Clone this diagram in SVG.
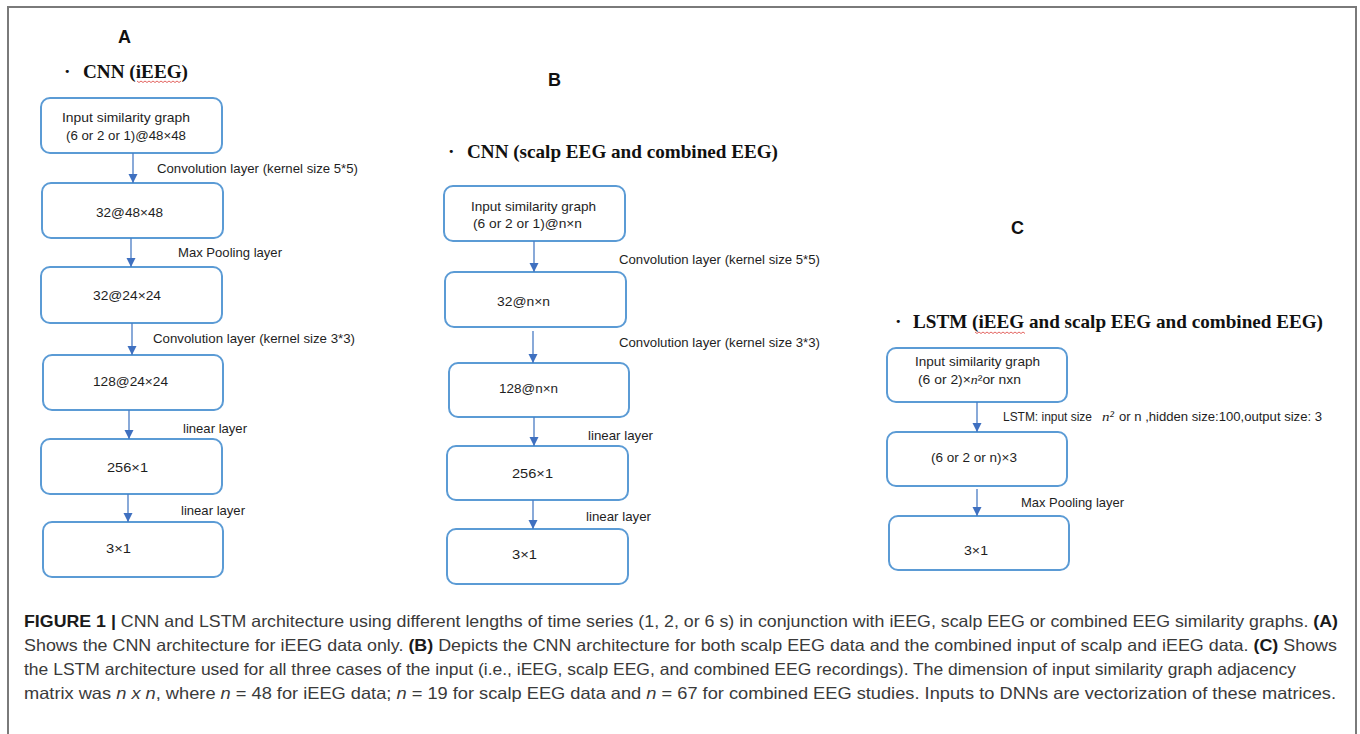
<svg xmlns="http://www.w3.org/2000/svg" width="1360" height="734" viewBox="0 0 1360 734">
<defs>
<style>
.bg{fill:#ffffff}
.frame{fill:none;stroke:#7a7a7a;stroke-width:2}
.box{fill:#ffffff;stroke:#5b9bd5;stroke-width:2}
.bt{font-family:"Liberation Sans",Arial,sans-serif;font-size:13.5px;fill:#1e1e1e}
.lbl{font-family:"Liberation Sans",Arial,sans-serif;font-size:13.5px;fill:#1e1e1e}
.pl{font-family:"Liberation Sans",Arial,sans-serif;font-size:18px;font-weight:bold;fill:#111}
.ttl{font-family:"Liberation Serif","Times New Roman",serif;font-size:19.5px;font-weight:bold;fill:#111}
.cap{font-family:"Liberation Sans",Arial,sans-serif;font-size:16.5px;fill:#3a3a3a}
.capb{font-weight:bold;fill:#1a1a1a}
.math{font-family:"Liberation Serif","Times New Roman",serif;font-style:italic}
.arr{stroke:#4a7cc4;stroke-width:1.3;fill:none}
.sq{fill:none;stroke:#e0534f;stroke-width:0.9}
</style>
<marker id="ah" markerUnits="userSpaceOnUse" markerWidth="10" markerHeight="10" refX="9" refY="5" orient="auto">
<path d="M0,0.5 L9,5 L0,9.5 z" fill="#3f70c0"/>
</marker>
</defs>
<rect class="bg" x="0" y="0" width="1360" height="734"/>
<path class="frame" d="M8,734 L8,7 L1356,7 L1356,734"/>

<!-- Panel headings -->
<g id="panel-A-head">
<text class="pl" x="118" y="43">A</text>
<text class="ttl" x="64" y="78">·</text>
<text class="ttl" x="83" y="78" textLength="105" lengthAdjust="spacingAndGlyphs">CNN (iEEG)</text>
<path class="sq" d="M137,81 l2,1.5 l2,-1.5 l2,1.5 l2,-1.5 l2,1.5 l2,-1.5 l2,1.5 l2,-1.5 l2,1.5 l2,-1.5 l2,1.5 l2,-1.5 l2,1.5 l2,-1.5 l2,1.5 l2,-1.5 l2,1.5 l2,-1.5 l2,1.5 l2,-1.5 l2,1.5 l2,-1.5"/>
</g>
<g id="panel-B-head">
<text class="pl" x="548" y="86">B</text>
<text class="ttl" x="448" y="158">·</text>
<text class="ttl" x="467" y="158" textLength="311" lengthAdjust="spacingAndGlyphs">CNN (scalp EEG and combined EEG)</text>
</g>
<g id="panel-C-head">
<text class="pl" x="1011" y="234">C</text>
<text class="ttl" x="895" y="328">·</text>
<text class="ttl" x="913" y="328" textLength="410" lengthAdjust="spacingAndGlyphs">LSTM (iEEG and scalp EEG and combined EEG)</text>
<path class="sq" d="M975,332 l2,1.5 l2,-1.5 l2,1.5 l2,-1.5 l2,1.5 l2,-1.5 l2,1.5 l2,-1.5 l2,1.5 l2,-1.5 l2,1.5 l2,-1.5 l2,1.5 l2,-1.5 l2,1.5 l2,-1.5 l2,1.5 l2,-1.5 l2,1.5 l2,-1.5 l2,1.5 l2,-1.5 l2,1.5 l2,-1.5 l2,1.5"/>
</g>

<!-- Panel A nodes -->
<g id="A1"><rect class="box" x="41" y="98" width="181" height="55" rx="9"/>
<text class="bt" x="62" y="122" textLength="128" lengthAdjust="spacingAndGlyphs">Input similarity  graph</text>
<text class="bt" x="66" y="140" textLength="120" lengthAdjust="spacingAndGlyphs">(6 or 2 or 1)@48×48</text></g>
<g id="A2"><rect class="box" x="42" y="183" width="181" height="55" rx="9"/>
<text class="bt" x="96" y="217" textLength="67" lengthAdjust="spacingAndGlyphs">32@48×48</text></g>
<g id="A3"><rect class="box" x="41" y="267" width="181" height="56" rx="9"/>
<text class="bt" x="93" y="300" textLength="68" lengthAdjust="spacingAndGlyphs">32@24×24</text></g>
<g id="A4"><rect class="box" x="43" y="355" width="180" height="55" rx="9"/>
<text class="bt" x="93" y="386" textLength="75" lengthAdjust="spacingAndGlyphs">128@24×24</text></g>
<g id="A5"><rect class="box" x="41" y="439" width="181" height="55" rx="9"/>
<text class="bt" x="107" y="472" textLength="41" lengthAdjust="spacingAndGlyphs">256×1</text></g>
<g id="A6"><rect class="box" x="43" y="522" width="180" height="55" rx="9"/>
<text class="bt" x="106" y="553" textLength="25" lengthAdjust="spacingAndGlyphs">3×1</text></g>

<!-- Panel B nodes -->
<g id="B1"><rect class="box" x="444" y="186" width="181" height="55" rx="9"/>
<text class="bt" x="471" y="211" textLength="125" lengthAdjust="spacingAndGlyphs">Input similarity graph</text>
<text class="bt" x="473" y="228" textLength="109" lengthAdjust="spacingAndGlyphs">(6 or 2 or 1)@n×n</text></g>
<g id="B2"><rect class="box" x="445" y="272" width="181" height="55" rx="9"/>
<text class="bt" x="497" y="306" textLength="53" lengthAdjust="spacingAndGlyphs">32@n×n</text></g>
<g id="B3"><rect class="box" x="449" y="363" width="180" height="54" rx="9"/>
<text class="bt" x="499" y="393" textLength="59" lengthAdjust="spacingAndGlyphs">128@n×n</text></g>
<g id="B4"><rect class="box" x="447" y="446" width="181" height="54" rx="9"/>
<text class="bt" x="512" y="478" textLength="41" lengthAdjust="spacingAndGlyphs">256×1</text></g>
<g id="B5"><rect class="box" x="447" y="529" width="181" height="55" rx="9"/>
<text class="bt" x="512" y="559" textLength="25" lengthAdjust="spacingAndGlyphs">3×1</text></g>

<!-- Panel C nodes -->
<g id="C1"><rect class="box" x="887" y="348" width="180" height="54" rx="9"/>
<text class="bt" x="915" y="366" textLength="125" lengthAdjust="spacingAndGlyphs">Input similarity graph</text>
<text class="bt" x="918" y="384" textLength="103" lengthAdjust="spacingAndGlyphs">(6 or 2)×<tspan class="math">n</tspan>²or nxn</text></g>
<g id="C2"><rect class="box" x="887" y="432" width="180" height="54" rx="9"/>
<text class="bt" x="931" y="462" textLength="86" lengthAdjust="spacingAndGlyphs">(6 or 2 or n)×3</text></g>
<g id="C3"><rect class="box" x="889" y="516" width="180" height="54" rx="9"/>
<text class="bt" x="964" y="555" textLength="24" lengthAdjust="spacingAndGlyphs">3×1</text></g>

<!-- Connectors -->
<g id="connectors">
<line class="arr" x1="133" y1="153" x2="133" y2="183" marker-end="url(#ah)"/>
<line class="arr" x1="131" y1="238" x2="131" y2="267" marker-end="url(#ah)"/>
<line class="arr" x1="132" y1="323" x2="132" y2="355" marker-end="url(#ah)"/>
<line class="arr" x1="129" y1="410" x2="129" y2="439" marker-end="url(#ah)"/>
<line class="arr" x1="128" y1="494" x2="128" y2="522" marker-end="url(#ah)"/>
<line class="arr" x1="534" y1="241" x2="534" y2="272" marker-end="url(#ah)"/>
<line class="arr" x1="533" y1="331" x2="533" y2="363" marker-end="url(#ah)"/>
<line class="arr" x1="534" y1="417" x2="534" y2="446" marker-end="url(#ah)"/>
<line class="arr" x1="533" y1="500" x2="533" y2="529" marker-end="url(#ah)"/>
<line class="arr" x1="977" y1="402" x2="977" y2="432" marker-end="url(#ah)"/>
<line class="arr" x1="977" y1="489" x2="977" y2="516" marker-end="url(#ah)"/>
<text class="lbl" x="157" y="173" textLength="201" lengthAdjust="spacingAndGlyphs">Convolution layer (kernel size 5*5)</text>
<text class="lbl" x="178" y="257" textLength="104" lengthAdjust="spacingAndGlyphs">Max Pooling layer</text>
<text class="lbl" x="153" y="343" textLength="202" lengthAdjust="spacingAndGlyphs">Convolution layer (kernel size 3*3)</text>
<text class="lbl" x="183" y="433" textLength="64" lengthAdjust="spacingAndGlyphs">linear layer</text>
<text class="lbl" x="181" y="515" textLength="64" lengthAdjust="spacingAndGlyphs">linear layer</text>
<text class="lbl" x="619" y="264" textLength="201" lengthAdjust="spacingAndGlyphs">Convolution layer (kernel size 5*5)</text>
<text class="lbl" x="619" y="347" textLength="201" lengthAdjust="spacingAndGlyphs">Convolution layer (kernel size 3*3)</text>
<text class="lbl" x="588" y="440" textLength="65" lengthAdjust="spacingAndGlyphs">linear layer</text>
<text class="lbl" x="586" y="521" textLength="65" lengthAdjust="spacingAndGlyphs">linear layer</text>
<text class="lbl" x="1003" y="421" textLength="89" lengthAdjust="spacingAndGlyphs">LSTM: input size</text>
<text class="lbl math" x="1102" y="421" textLength="12" lengthAdjust="spacingAndGlyphs">n²</text>
<text class="lbl" x="1119" y="421" textLength="203" lengthAdjust="spacingAndGlyphs">or n ,hidden size:100,output size: 3</text>
<text class="lbl" x="1021" y="507" textLength="103" lengthAdjust="spacingAndGlyphs">Max Pooling layer</text>
</g>

<!-- Caption -->
<g id="caption">
<text class="cap" x="24" y="627" textLength="1314" lengthAdjust="spacingAndGlyphs"><tspan class="capb">FIGURE 1 |</tspan> CNN and LSTM architecture using different lengths of time series (1, 2, or 6 s) in conjunction with iEEG, scalp EEG or combined EEG similarity graphs. <tspan class="capb">(A)</tspan></text>
<text class="cap" x="24" y="651" textLength="1313" lengthAdjust="spacingAndGlyphs">Shows the CNN architecture for iEEG data only. <tspan class="capb">(B)</tspan> Depicts the CNN architecture for both scalp EEG data and the combined input of scalp and iEEG data. <tspan class="capb">(C)</tspan> Shows</text>
<text class="cap" x="24" y="675" textLength="1272" lengthAdjust="spacingAndGlyphs">the LSTM architecture used for all three cases of the input (i.e., iEEG, scalp EEG, and combined EEG recordings). The dimension of input similarity graph adjacency</text>
<text class="cap" x="24" y="699" textLength="1312" lengthAdjust="spacingAndGlyphs">matrix was <tspan font-style="italic">n x n</tspan>, where <tspan font-style="italic">n</tspan> = 48 for iEEG data; <tspan font-style="italic">n</tspan> = 19 for scalp EEG data and <tspan font-style="italic">n</tspan> = 67 for combined EEG studies. Inputs to DNNs are vectorization of these matrices.</text>
</g>
</svg>
